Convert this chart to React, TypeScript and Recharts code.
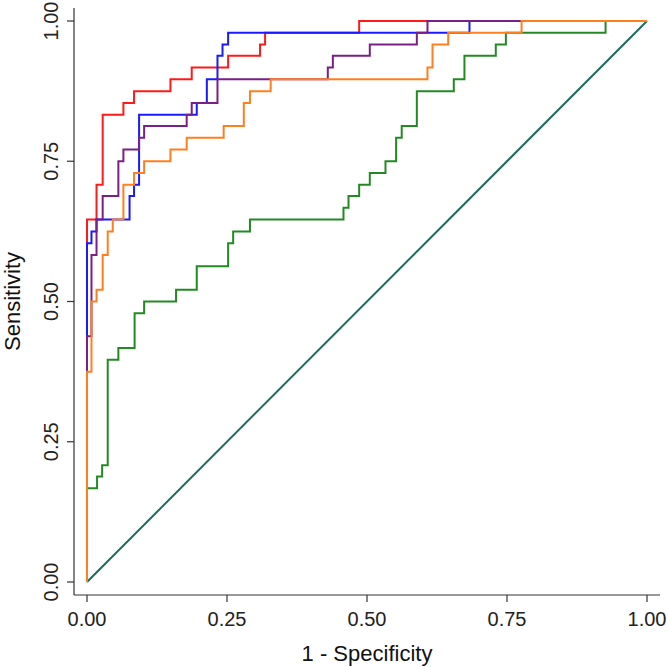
import React from "react";
import { LineChart, Line, XAxis, YAxis } from "recharts";

const FONT = "'Liberation Sans', Arial, Helvetica, sans-serif";

const axisTicks = [0, 0.25, 0.5, 0.75, 1];

// ROC curves: false positive rate (1 - specificity) and sensitivity at each step corner
const redFpr = [0, 0.017, 0.028, 0.065, 0.084, 0.149, 0.187, 0.252, 0.309, 0.318, 0.486, 1];
const redTpr = [0, 0.646, 0.708, 0.833, 0.854, 0.875, 0.896, 0.917, 0.938, 0.958, 0.979, 1];

const blueFpr = [0, 0.008, 0.017, 0.076, 0.084, 0.093, 0.196, 0.214, 0.233, 0.242, 0.252, 0.683, 1];
const blueTpr = [0, 0.604, 0.625, 0.646, 0.688, 0.708, 0.833, 0.854, 0.896, 0.938, 0.958, 0.979, 1];

const purpleFpr = [0, 0.008, 0.017, 0.028, 0.056, 0.065, 0.093, 0.102, 0.178, 0.187, 0.233, 0.43, 0.439, 0.505, 0.589, 0.608, 1];
const purpleTpr = [0, 0.438, 0.583, 0.646, 0.688, 0.75, 0.771, 0.792, 0.813, 0.833, 0.854, 0.896, 0.917, 0.938, 0.958, 0.979, 1];

const orangeFpr = [0, 0.008, 0.017, 0.028, 0.037, 0.046, 0.065, 0.084, 0.102, 0.149, 0.178, 0.244, 0.28, 0.291, 0.328, 0.608, 0.617, 0.645, 0.776, 1];
const orangeTpr = [0, 0.375, 0.5, 0.521, 0.583, 0.625, 0.646, 0.708, 0.729, 0.75, 0.771, 0.792, 0.813, 0.854, 0.875, 0.896, 0.917, 0.958, 0.979, 1];

const greenFpr = [0, 0.018, 0.027, 0.037, 0.056, 0.085, 0.102, 0.159, 0.196, 0.252, 0.261, 0.291, 0.458, 0.467, 0.486, 0.505, 0.533, 0.552, 0.562, 0.589, 0.655, 0.674, 0.73, 0.748, 0.926, 1];
const greenTpr = [0, 0.167, 0.188, 0.208, 0.396, 0.417, 0.479, 0.5, 0.521, 0.563, 0.604, 0.625, 0.646, 0.667, 0.688, 0.708, 0.729, 0.75, 0.792, 0.813, 0.875, 0.896, 0.938, 0.958, 0.979, 1];

const refFpr = [0, 1];
const refTpr = [0, 1];

const toRows = (fpr: number[], tpr: number[]) => fpr.map((x, i) => ({ x, y: tpr[i] }));

const curves = [
  { name: "green", color: "#238a23", rows: toRows(greenFpr, greenTpr) },
  { name: "red", color: "#ff1a1a", rows: toRows(redFpr, redTpr) },
  { name: "blue", color: "#1a1aff", rows: toRows(blueFpr, blueTpr) },
  { name: "purple", color: "#7a1f86", rows: toRows(purpleFpr, purpleTpr) },
  { name: "orange", color: "#ff7f1e", rows: toRows(orangeFpr, orangeTpr) },
];

const YTick = (props: any) => {
  const { x, y, payload } = props;
  return (
    <text
      x={x}
      y={y}
      transform={`rotate(-90, ${x}, ${y})`}
      textAnchor="middle"
      fontSize={20}
      fontFamily={FONT}
      fill="#222"
    >
      {Number(payload.value).toFixed(2)}
    </text>
  );
};

export default function App() {
  return (
    <div style={{ position: "absolute", left: 0, top: 0, width: 668, height: 667, background: "#fff" }}>
      <LineChart width={668} height={667} margin={{ top: 8, right: 8, bottom: 0, left: 0 }}>
        <XAxis
          type="number"
          dataKey="x"
          domain={[0, 1]}
          ticks={axisTicks}
          tickFormatter={(v: number) => v.toFixed(2)}
          padding={{ left: 13, right: 13 }}
          height={72}
          tickSize={7}
          tickMargin={10}
          axisLine={{ stroke: "#333", strokeWidth: 1.2 }}
          tickLine={{ stroke: "#333", strokeWidth: 1.2 }}
          tick={{ fontSize: 20, fill: "#222", fontFamily: FONT }}
          label={{
            value: "1 - Specificity",
            position: "insideBottom",
            offset: 6,
            fontSize: 22,
            fill: "#111",
            fontFamily: FONT,
          }}
        />
        <YAxis
          type="number"
          domain={[0, 1]}
          ticks={axisTicks}
          padding={{ top: 13, bottom: 13 }}
          width={74}
          tickSize={7}
          tickMargin={9}
          axisLine={{ stroke: "#333", strokeWidth: 1.2 }}
          tickLine={{ stroke: "#333", strokeWidth: 1.2 }}
          tick={<YTick />}
          label={{
            value: "Sensitivity",
            angle: -90,
            position: "insideLeft",
            offset: 12,
            fontSize: 22,
            fill: "#111",
            fontFamily: FONT,
            style: { textAnchor: "middle" },
          }}
        />
        <Line
          data={toRows(refFpr, refTpr)}
          dataKey="y"
          type="linear"
          stroke="#1d6b5b"
          strokeWidth={2}
          dot={false}
          isAnimationActive={false}
        />
        {curves.map((c) => (
          <Line
            key={c.name}
            data={c.rows}
            dataKey="y"
            type="stepBefore"
            stroke={c.color}
            strokeWidth={2}
            dot={false}
            isAnimationActive={false}
          />
        ))}
      </LineChart>
    </div>
  );
}
